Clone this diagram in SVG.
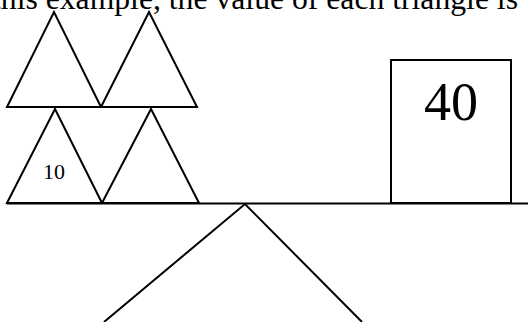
<svg xmlns="http://www.w3.org/2000/svg" width="528" height="322" viewBox="0 0 528 322">
<style>
.s{fill:none;stroke:#000;stroke-width:2;stroke-linejoin:miter}
.t{font-family:"Liberation Serif","Times New Roman",serif;fill:#000}
</style>
<rect width="528" height="322" fill="#fff"/>
<text class="t" x="-8" y="9" font-size="31.5" textLength="526" lengthAdjust="spacingAndGlyphs">this example, the value of each triangle is</text>
<g id="tri-top-left"><polygon class="s" points="7,107 54,12 101,107"/></g>
<g id="tri-top-right"><polygon class="s" points="101,107 149,12 197,107"/></g>
<g id="tri-bottom-left"><polygon class="s" points="7,203 55,109 102,203"/><text class="t" x="54" y="179" font-size="22" text-anchor="middle">10</text></g>
<g id="tri-bottom-right"><polygon class="s" points="102,203 151,109 199,203"/></g>
<g id="box"><rect class="s" x="391" y="60" width="120" height="143"/><text class="t" x="451" y="120" font-size="54" text-anchor="middle">40</text></g>
<g id="beam"><line class="s" x1="7" y1="203.5" x2="528" y2="203.5"/></g>
<g id="connectors"><polyline class="s" stroke-width="1.8" points="104,322 245,204 362,322"/></g>
</svg>
